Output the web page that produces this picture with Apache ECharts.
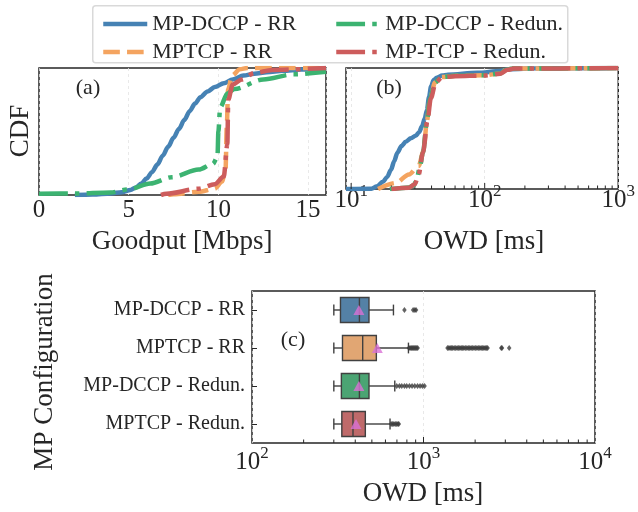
<!DOCTYPE html>
<html>
<head>
<meta charset="utf-8">
<script src="https://cdn.jsdelivr.net/npm/echarts@6/dist/echarts.min.js"></script>
<style>
html, body { margin: 0; padding: 0; background: #fff; }
#chart { width: 638px; height: 512px; }
</style>
</head>
<body>
<div id="chart"></div>
<script>
const FONT = 'Liberation Serif';
const INK = '#262626';

// Configurations shown in the legend (shared by panels a and b)
const seriesNames = ['MP-DCCP - RR', 'MPTCP - RR', 'MP-DCCP - Redun.', 'MP-TCP - Redun.'];
const lineColors = ['#4682b4', '#f4a460', '#3cb371', '#cd5c5c'];

// (a) Goodput CDF points: [Mbps, cumulative fraction]
const goodputDccpRR = [[2.0, 0], [3.0, 0.004], [4.0, 0.012], [4.6, 0.022], [5.1, 0.04], [5.4, 0.06], [5.7, 0.09],
  [6.0, 0.13], [6.3, 0.18], [6.6, 0.24], [6.9, 0.31], [7.2, 0.38], [7.5, 0.45], [7.8, 0.52], [8.1, 0.59],
  [8.4, 0.66], [8.7, 0.72], [9.0, 0.77], [9.4, 0.815], [9.8, 0.85], [10.3, 0.88], [10.8, 0.91], [11.4, 0.94],
  [12.0, 0.955], [12.7, 0.967], [13.6, 0.978], [14.6, 0.988], [16, 1.0]];
const goodputTcpRR = [[7.2, 0], [7.5, 0.005], [8.9, 0.025], [9.8, 0.05], [10.2, 0.105], [10.4, 0.2], [10.47, 0.54],
  [10.54, 0.83], [10.76, 0.94], [11.2, 0.99], [11.6, 1.0], [16, 1.0]];
const goodputDccpRedun = [[0, 0.01], [2, 0.012], [4, 0.02], [5, 0.045], [6.2, 0.09], [7.4, 0.14], [8.9, 0.2],
  [9.7, 0.245], [9.95, 0.3], [10.0, 0.5], [10.1, 0.69], [10.5, 0.8], [10.9, 0.835], [12.5, 0.91], [14.2, 0.95], [16, 0.97]];
const goodputTcpRedun = [[6.8, 0], [7.1, 0.01], [8.9, 0.05], [9.8, 0.085], [10.3, 0.145], [10.5, 0.4], [10.55, 0.75],
  [10.8, 0.87], [11.3, 0.91], [12.0, 0.96], [13.0, 0.985], [16, 1.0]];

// (b) One-way delay CDF points: [ms, cumulative fraction]
const owdDccpRR = [[9.15, 0], [14.2, 0.003], [15.5, 0.02], [17.3, 0.06], [18.6, 0.1], [19.9, 0.16], [21, 0.23],
  [22.2, 0.3], [23.8, 0.355], [25.6, 0.39], [28, 0.42], [30.4, 0.44], [32.3, 0.47], [34, 0.52], [35.5, 0.58],
  [36.9, 0.65], [38.3, 0.76], [39.7, 0.85], [41.5, 0.9], [43.7, 0.92], [48, 0.937], [53, 0.945], [88, 0.96],
  [131, 0.975], [151, 0.99], [250, 0.997], [1000, 1.0]];
const owdTcpRR = [[15.9, 0], [21.6, 0.05], [27.1, 0.12], [32, 0.19], [34.9, 0.32], [36.9, 0.56], [39, 0.75],
  [42.5, 0.88], [47, 0.925], [60, 0.935], [100, 0.94], [131, 0.955], [145, 0.985], [160, 0.995], [1000, 1.0]];
const owdDccpRedun = [[19.5, 0], [22, 0.005], [27, 0.012], [29.5, 0.03], [31, 0.08], [32.5, 0.17], [34.5, 0.3],
  [36.9, 0.56], [39, 0.75], [42.5, 0.88], [47, 0.925], [60, 0.935], [100, 0.94], [131, 0.955], [145, 0.985],
  [160, 0.995], [1000, 1.0]];
const owdTcpRedun = [[20, 0], [27, 0.01], [30, 0.04], [32, 0.12], [34.5, 0.3], [37.2, 0.56], [39.5, 0.75],
  [43, 0.88], [48, 0.925], [60, 0.932], [100, 0.938], [131, 0.952], [148, 0.985], [165, 0.995], [1000, 1.0]];

// (c) OWD box statistics per configuration: [whisker low, Q1, median, Q3, whisker high] in ms
const owdCategories = ['MP-DCCP - RR', 'MPTCP - RR', 'MP-DCCP - Redun.', 'MPTCP - Redun.'];
const boxStats = [
  [300, 328, 423, 481, 668],
  [300, 337, 442, 531, 817],
  [300, 332, 423, 481, 680],
  [300, 334, 388, 458, 638]
];
const owdMeans = [420, 538, 420, 404];
const boxColors = ['#5481a6', '#e1a673', '#4ba473', '#bf6a6a'];
const outliersDccpRR = [774, 870, 890, 905];
const outliersTcpRR = [822, 835, 848, 860, 872, 885, 898, 912, 925,
  1380, 1405, 1430, 1455, 1480, 1510, 1540, 1570, 1600, 1630, 1660, 1690, 1720, 1755, 1790,
  1825, 1860, 1895, 1930, 1970, 2010, 2050, 2090, 2130, 2170, 2210, 2250, 2290, 2330, 2365,
  2840, 2870, 3160];
const outliersDccpRedun = [698, 724, 747, 774, 798, 828, 858, 889, 923, 955, 986, 1014];
const outliersTcpRedun = [648, 660, 672, 685, 698, 710, 718];

// Tick positions on the logarithmic axes
const majorTicksB = [10, 100];
const minorTicksB = [20, 30, 40, 50, 60, 70, 80, 90, 200, 300, 400, 500, 600, 700, 800, 900];
const majorTicksC = [1000];
const minorTicksC = [200, 300, 400, 500, 600, 700, 800, 900, 2000, 3000, 4000, 5000, 6000, 7000, 8000, 9000];

const lineWidth = 4.5;
const lineTypes = ['solid', [16.6, 7.2], [28.8, 7.2, 4.5, 7.2], [28.8, 7.2, 4.5, 7.2]];

const chart = echarts.init(document.getElementById('chart'), null, { renderer: 'canvas' });

function powerLabel(v) {
  const e = Math.round(Math.log10(v));
  if (Math.abs(v - Math.pow(10, e)) > 1e-6 * v) return '';
  return '{b|10}{s|' + e + '}';
}
const powerRich = {
  b: { fontFamily: FONT, fontSize: 25, color: INK, lineHeight: 25, padding: [10, 0, 0, 0] },
  s: { fontFamily: FONT, fontSize: 17, color: INK, lineHeight: 17, verticalAlign: 'top' }
};

function tickSeries(name, ticks, len, xAxisIndex, yAxisIndex) {
  return {
    type: 'custom', name: name, xAxisIndex: xAxisIndex, yAxisIndex: yAxisIndex,
    data: ticks.map(v => [v, 0]), encode: { x: 0, y: 1 }, silent: true, z: 5,
    renderItem: function (params, api) {
      const x = api.coord([api.value(0), 0])[0];
      const bottom = params.coordSys.y + params.coordSys.height;
      return {
        type: 'line',
        shape: { x1: x, y1: bottom, x2: x, y2: bottom - len },
        style: { stroke: INK, lineWidth: 1 }
      };
    }
  };
}

function cdfSeries(idx, data, xAxisIndex) {
  return {
    type: 'line', name: seriesNames[idx], data: data,
    xAxisIndex: xAxisIndex, yAxisIndex: xAxisIndex,
    symbol: 'none', smooth: 0.3, smoothMonotone: 'x',
    lineStyle: { color: lineColors[idx], width: lineWidth, type: lineTypes[idx] },
    itemStyle: { color: lineColors[idx] },
    z: 3 + idx
  };
}

const splitStyle = { show: true, lineStyle: { color: '#e3e3e3', type: [3, 3], width: 0.8 } };

const boxSeries = {
  type: 'custom', name: 'box', xAxisIndex: 2, yAxisIndex: 2,
  data: boxStats.map((s, i) => s.concat([i])),
  encode: { x: [0, 1, 2, 3, 4], y: 5 },
  z: 3,
  renderItem: function (params, api) {
    const cat = api.value(5);
    const pLo = api.coord([api.value(0), cat]);
    const pQ1 = api.coord([api.value(1), cat]);
    const pMd = api.coord([api.value(2), cat]);
    const pQ3 = api.coord([api.value(3), cat]);
    const pHi = api.coord([api.value(4), cat]);
    const band = params.coordSys.height / owdCategories.length;
    const h = band * 0.66;
    const cap = h * 0.43;
    const y = pMd[1];
    const edge = { stroke: '#404040', lineWidth: 1.4 };
    return {
      type: 'group',
      children: [
        { type: 'line', shape: { x1: pLo[0], y1: y, x2: pQ1[0], y2: y }, style: edge },
        { type: 'line', shape: { x1: pQ3[0], y1: y, x2: pHi[0], y2: y }, style: edge },
        { type: 'line', shape: { x1: pLo[0], y1: y - cap / 2, x2: pLo[0], y2: y + cap / 2 }, style: edge },
        { type: 'line', shape: { x1: pHi[0], y1: y - cap / 2, x2: pHi[0], y2: y + cap / 2 }, style: edge },
        { type: 'rect', shape: { x: pQ1[0], y: y - h / 2, width: pQ3[0] - pQ1[0], height: h },
          style: { fill: boxColors[params.dataIndex], stroke: '#404040', lineWidth: 1.4 } },
        { type: 'line', shape: { x1: pMd[0], y1: y - h / 2, x2: pMd[0], y2: y + h / 2 }, style: edge }
      ]
    };
  }
};

const outlierData = [];
[outliersDccpRR, outliersTcpRR, outliersDccpRedun, outliersTcpRedun].forEach((arr, i) => {
  arr.forEach(v => outlierData.push([v, i]));
});

const legendCommon = {
  orient: 'vertical', top: 8, itemWidth: 44, itemHeight: 14, itemGap: 6,
  textStyle: { fontFamily: FONT, fontSize: 22, color: INK, padding: [0, 0, 0, 0] },
  lineStyle: { width: lineWidth },
  itemStyle: { color: 'rgba(0,0,0,0)', borderWidth: 0, opacity: 0 },
  selectedMode: false
};

const option = {
  animation: false,
  backgroundColor: '#fff',
  textStyle: { fontFamily: FONT },
  legend: [
    Object.assign({}, legendCommon, { left: 96, data: [seriesNames[0], seriesNames[1]] }),
    Object.assign({}, legendCommon, { left: 329, data: [seriesNames[2], seriesNames[3]] })
  ],
  grid: [
    { left: 39, top: 68, width: 287, height: 127, show: true, borderColor: INK, borderWidth: 1.5 },
    { left: 346, top: 68, width: 277, height: 121, show: true, borderColor: INK, borderWidth: 1.5 },
    { left: 252, top: 291, width: 343, height: 152, show: true, borderColor: INK, borderWidth: 1.5 }
  ],
  xAxis: [
    {
      type: 'value', gridIndex: 0, min: 0, max: 16, interval: 5,
      axisLine: { show: false }, axisTick: { show: false },
      axisLabel: { fontFamily: FONT, fontSize: 25, color: INK, margin: 3,
        formatter: v => (v % 5 === 0 ? String(v) : '') },
      splitLine: splitStyle
    },
    {
      type: 'log', logBase: 10, gridIndex: 1, min: 9.15, max: 1000,
      axisLine: { show: false }, axisTick: { show: false },
      axisLabel: { formatter: powerLabel, rich: powerRich, margin: -6, showMinLabel: true, hideOverlap: false },
      splitLine: splitStyle
    },
    {
      type: 'log', logBase: 10, gridIndex: 2, min: 100, max: 10000,
      axisLine: { show: false }, axisTick: { show: false },
      axisLabel: { formatter: powerLabel, rich: powerRich, margin: 2 },
      splitLine: splitStyle
    }
  ],
  yAxis: [
    { type: 'value', gridIndex: 0, min: 0, max: 1, show: false },
    { type: 'value', gridIndex: 1, min: 0, max: 1, show: false },
    {
      type: 'category', gridIndex: 2, data: owdCategories, inverse: true,
      axisLine: { show: false },
      axisTick: { show: true, inside: true, length: 5, alignWithLabel: true, lineStyle: { color: INK, width: 1 } },
      axisLabel: { fontFamily: FONT, fontSize: 20, color: INK, margin: 7 },
      splitLine: { show: false }
    }
  ],
  series: [
    cdfSeries(0, goodputDccpRR, 0),
    cdfSeries(1, goodputTcpRR, 0),
    cdfSeries(2, goodputDccpRedun, 0),
    cdfSeries(3, goodputTcpRedun, 0),
    cdfSeries(0, owdDccpRR, 1),
    cdfSeries(1, owdTcpRR, 1),
    cdfSeries(2, owdDccpRedun, 1),
    cdfSeries(3, owdTcpRedun, 1),
    tickSeries('majorB', majorTicksB, 6, 1, 1),
    tickSeries('minorB', minorTicksB, 3.5, 1, 1),
    tickSeries('majorC', majorTicksC, 6, 2, 2),
    tickSeries('minorC', minorTicksC, 3.5, 2, 2),
    boxSeries,
    {
      type: 'scatter', name: 'outliers', xAxisIndex: 2, yAxisIndex: 2, data: outlierData,
      symbol: 'diamond', symbolSize: [4.5, 6], itemStyle: { color: '#3d3d3d' }, z: 4, silent: true
    },
    {
      type: 'scatter', name: 'mean', xAxisIndex: 2, yAxisIndex: 2,
      data: owdMeans.map((m, i) => [m, i]),
      symbol: 'triangle', symbolSize: [11, 10], itemStyle: { color: '#da70d6' }, z: 6, silent: true
    }
  ],
  graphic: [
    { type: 'rect', left: 92, top: 5, shape: { width: 475, height: 57, r: 3 },
      style: { fill: '#fff', stroke: '#d9d9d9', lineWidth: 1.5 }, z: -1, silent: true },
    { type: 'text', x: 88, y: 88, style: { text: '(a)', font: '22px "Liberation Serif"', fill: INK, textAlign: 'center', textVerticalAlign: 'middle' } },
    { type: 'text', x: 389, y: 88, style: { text: '(b)', font: '22px "Liberation Serif"', fill: INK, textAlign: 'center', textVerticalAlign: 'middle' } },
    { type: 'text', x: 293, y: 340, style: { text: '(c)', font: '22px "Liberation Serif"', fill: INK, textAlign: 'center', textVerticalAlign: 'middle' } },
    { type: 'text', x: 21, y: 131, rotation: Math.PI / 2, style: { text: 'CDF', font: '27px "Liberation Serif"', fill: INK, textAlign: 'center', textVerticalAlign: 'middle' } },
    { type: 'text', x: 45, y: 372, rotation: Math.PI / 2, style: { text: 'MP Configuration', font: '27px "Liberation Serif"', fill: INK, textAlign: 'center', textVerticalAlign: 'middle' } },
    { type: 'text', x: 182, y: 242, style: { text: 'Goodput [Mbps]', font: '27px "Liberation Serif"', fill: INK, textAlign: 'center', textVerticalAlign: 'middle' } },
    { type: 'text', x: 484, y: 242, style: { text: 'OWD [ms]', font: '27px "Liberation Serif"', fill: INK, textAlign: 'center', textVerticalAlign: 'middle' } },
    { type: 'text', x: 423, y: 494, style: { text: 'OWD [ms]', font: '27px "Liberation Serif"', fill: INK, textAlign: 'center', textVerticalAlign: 'middle' } }
  ]
};

chart.setOption(option);
</script>
</body>
</html>
